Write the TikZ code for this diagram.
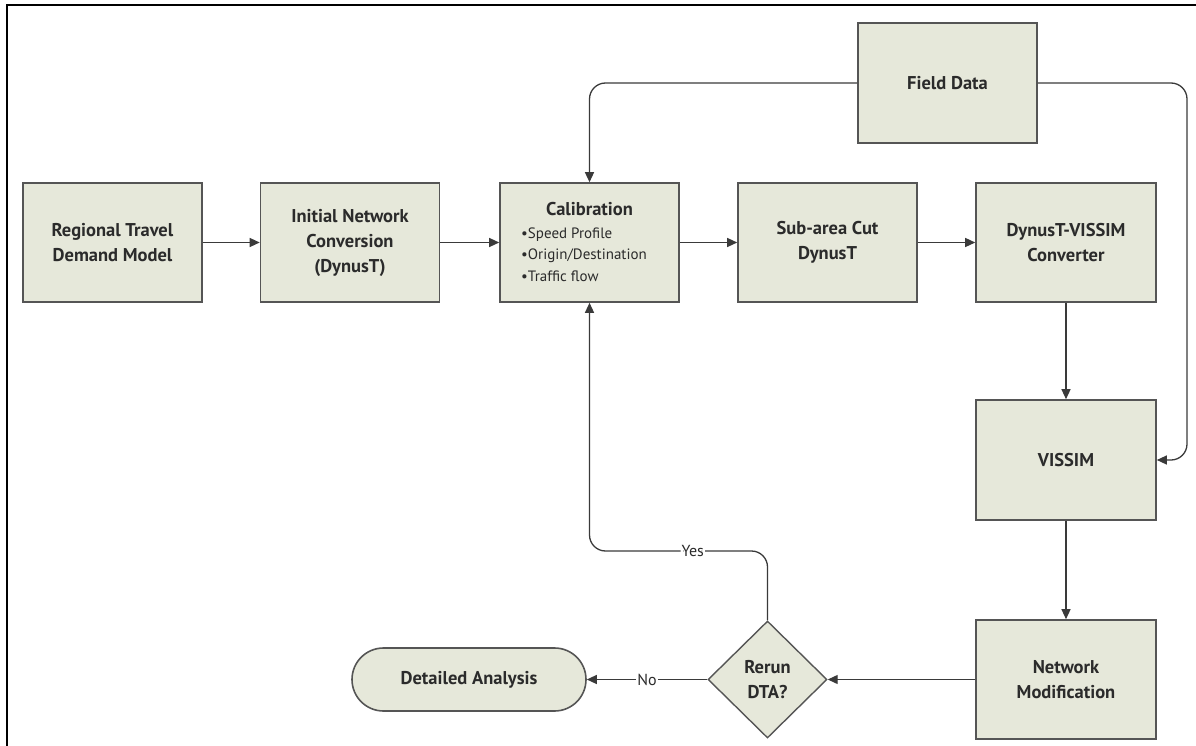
\documentclass[tikz,border=0pt]{standalone}
\usepackage{fontspec}
\setmainfont{PT Sans}
\usetikzlibrary{shapes.geometric,shapes.misc,arrows.meta}
\definecolor{boxfill}{HTML}{E6E8DA}
\definecolor{boxline}{HTML}{555555}
\definecolor{txt}{HTML}{2B2B2B}
\definecolor{conn}{HTML}{3A3A3A}
\tikzset{
  box/.style={draw=boxline, line width=1.6pt, fill=boxfill, minimum width=179pt, minimum height=119pt, inner sep=2pt, align=center, text=txt, font=\fontsize{18.5}{25}\selectfont\bfseries},
  decbox/.style={diamond, draw=boxline, line width=1.4pt, fill=boxfill, minimum width=119pt, minimum height=117pt, inner sep=0pt, aspect=1.02, align=center, text=txt, font=\fontsize{18.5}{25}\selectfont\bfseries},
  termbox/.style={rounded rectangle, draw=boxline, line width=1.6pt, fill=boxfill, minimum width=238pt, minimum height=63pt, inner sep=2pt, text=txt, font=\fontsize{18.5}{25}\selectfont\bfseries},
  arr/.style={draw=conn, line width=1.3pt, -{Triangle[length=10pt,width=9pt]}},
  lbl/.style={fill=white, inner sep=1pt, text=txt, font=\fontsize{16}{19}\selectfont},
  bul/.style={anchor=base west, inner sep=0pt, text=txt, font=\fontsize{15}{18}\selectfont}
}
\begin{document}
\begin{tikzpicture}[x=1pt,y=-1pt]
\useasboundingbox (0,0) rectangle (1196,746);
\draw[line width=2.8pt, black] (7,746) -- (7,5) -- (1196,5);

\node[box] (r1) at (112.5,242.5) {Regional Travel\\Demand Model};
\node[box] (r2) at (350,242.5) {Initial Network\\Conversion\\(DynusT)};
\node[box] (cal) at (589.5,242.5) {};
\node[anchor=base, inner sep=0pt, text=txt, font=\fontsize{18.5}{25}\selectfont\bfseries] (calt) at (589.5,215) {Calibration};
\node[bul] (b1) at (521,238) {•Speed Profile};
\node[bul] (b2) at (521,259.5) {•Origin/Destination};
\node[bul] (b3) at (521,281) {•Traffic flow};
\node[box] (sub) at (827.5,242.5) {Sub-area Cut\\DynusT};
\node[box, minimum width=180pt] (conv) at (1066,242.5) {DynusT-VISSIM\\Converter};
\node[box, minimum height=120pt] (field) at (947.5,83) {Field Data};
\node[box, minimum width=180pt, minimum height=120pt] (vissim) at (1066,460) {VISSIM};
\node[box, minimum width=180pt] (netmod) at (1066,679.5) {Network\\Modification};
\node[decbox] (dec) at (767.5,679.5) {Rerun\\DTA?};
\node[termbox] (det) at (469,679.5) {Detailed Analysis};

\coordinate (rb) at (1187,460);
\coordinate (ybar) at (0,551);

\draw[arr] (r1.east) -- (r2.west);
\draw[arr] (r2.east) -- (cal.west);
\draw[arr] (cal.east) -- (sub.west);
\draw[arr] (sub.east) -- (conv.west);
\draw[arr, rounded corners=16pt] (field.west) -| (cal.north);
\draw[arr, rounded corners=16pt] (field.east) -| (rb) -- (vissim.east);
\draw[arr] (conv.south) -- (vissim.north);
\draw[arr] (vissim.south) -- (netmod.north);
\draw[arr] (netmod.west) -- (dec.east);
\draw[arr] (dec.west) -- node[lbl, pos=0.5] (nolbl) {No} (det.east);
\draw[arr, rounded corners=16pt] (dec.north) -- (dec.north |- ybar) -- node[lbl, pos=0.42] (yeslbl) {Yes} (cal.south |- ybar) -- (cal.south);
\end{tikzpicture}
\end{document}
